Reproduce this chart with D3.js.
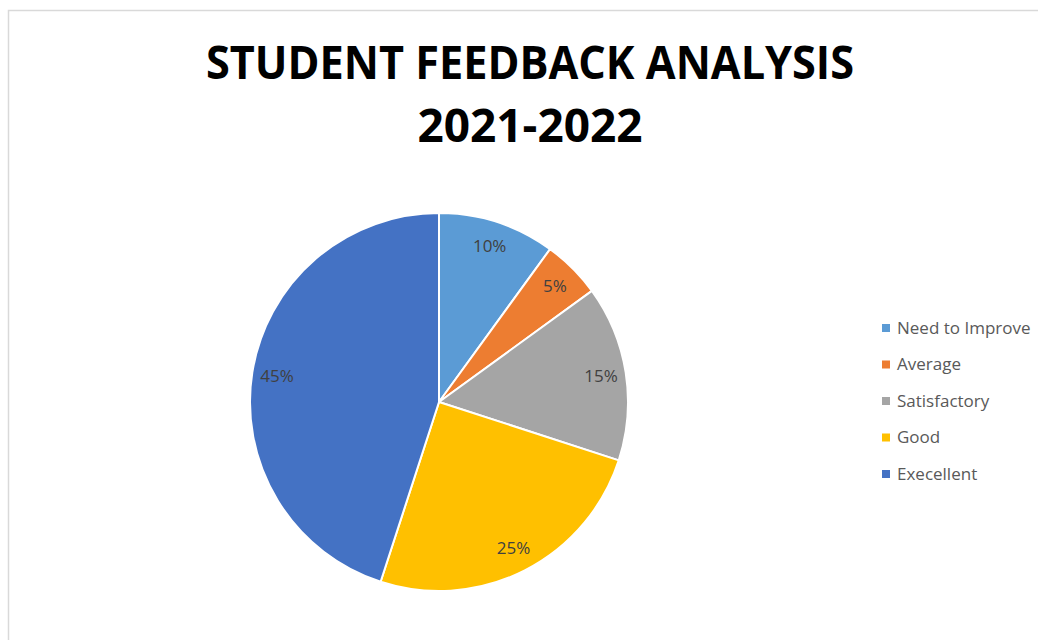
<!DOCTYPE html>
<html>
<head>
<meta charset="utf-8">
<script src="https://cdn.jsdelivr.net/npm/d3@7"></script>
<style>
  html, body { margin: 0; padding: 0; background: #fff; }
  svg { display: block; }
</style>
</head>
<body>
<svg id="chart" width="1038" height="640"></svg>
<script>
const titleLines = ["STUDENT FEEDBACK ANALYSIS", "2021-2022"];
const categories = ["Need to Improve", "Average", "Satisfactory", "Good", "Execellent"];
const values = [10, 5, 15, 25, 45];
const colors = ["#5B9BD5", "#ED7D31", "#A5A5A5", "#FFC000", "#4472C4"];

const svg = d3.select("#chart");

// chart area border
svg.append("rect")
  .attr("x", 8.5).attr("y", 10.5)
  .attr("width", 1100).attr("height", 700)
  .attr("fill", "#fff")
  .attr("stroke", "#D9D9D9").attr("stroke-width", 1.5);

// title
const title = svg.append("g")
  .attr("font-family", "'Open Sans', sans-serif")
  .attr("font-weight", "bold")
  .attr("font-size", 46)
  .attr("fill", "#000")
  .attr("text-anchor", "middle");
title.append("text").attr("x", 530).attr("y", 79)
  .attr("textLength", 648).attr("lengthAdjust", "spacingAndGlyphs")
  .text(titleLines[0]);
title.append("text").attr("x", 530).attr("y", 142)
  .text(titleLines[1]);

// pie
const cx = 439, cy = 402, R = 189;
const pie = d3.pie().sort(null).value(d => d.value);
const data = categories.map((c, i) => ({ name: c, value: values[i], color: colors[i] }));
const arcs = pie(data);
const arc = d3.arc().innerRadius(0).outerRadius(R);
const labelArc = d3.arc().innerRadius(164).outerRadius(164);
const total = d3.sum(values);

const g = svg.append("g").attr("transform", `translate(${cx},${cy})`);
g.selectAll("path").data(arcs).join("path")
  .attr("d", arc)
  .attr("fill", d => d.data.color)
  .attr("stroke", "#fff")
  .attr("stroke-width", 2)
  .attr("stroke-linejoin", "round");

g.selectAll("text.lbl").data(arcs).join("text")
  .attr("class", "lbl")
  .attr("transform", d => `translate(${labelArc.centroid(d)})`)
  .attr("text-anchor", "middle")
  .attr("dy", "0.35em")
  .attr("font-family", "'Open Sans', sans-serif")
  .attr("font-size", 17)
  .attr("fill", "#404040")
  .text(d => Math.round(d.data.value / total * 100) + "%");

// legend
const legendY = d3.scalePoint().domain(categories).range([328, 474]);
const lg = svg.append("g");
const items = lg.selectAll("g").data(data).join("g")
  .attr("transform", d => `translate(882,${legendY(d.name)})`);
items.append("rect")
  .attr("x", 0).attr("y", -4).attr("width", 8).attr("height", 8)
  .attr("fill", d => d.color);
items.append("text")
  .attr("x", 15).attr("dy", "0.35em")
  .attr("font-family", "'Open Sans', sans-serif")
  .attr("font-size", 17)
  .attr("fill", "#595959")
  .text(d => d.name);
</script>
</body>
</html>
